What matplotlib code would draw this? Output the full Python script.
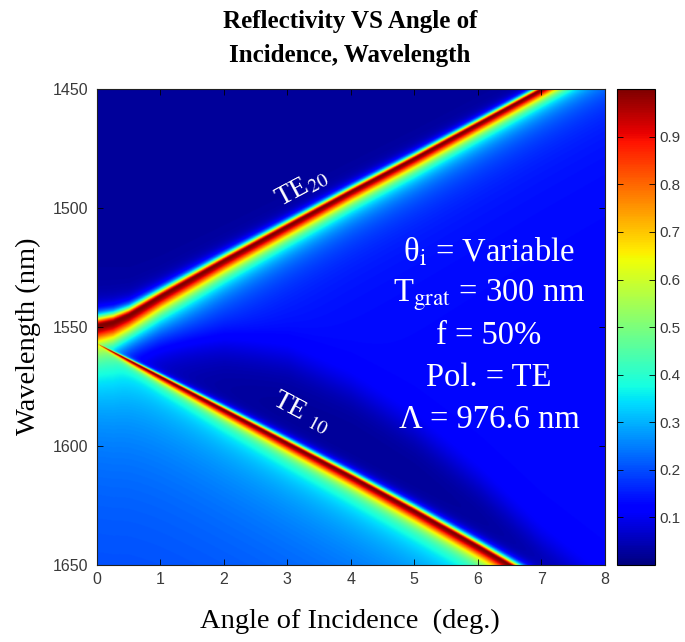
import numpy as np
import matplotlib
matplotlib.use('Agg')
import matplotlib.pyplot as plt

plt.rcParams['font.family'] = ['Liberation Serif', 'DejaVu Serif']
plt.rcParams['mathtext.fontset'] = 'stix'

# resonance positions (angle in deg, wavelength in nm)
angle_pts = [0, 0.25, 0.5, 1, 2, 3, 4, 5, 6, 7, 8]
te20_nm = [1549.5, 1548, 1545, 1537, 1522, 1507.5, 1493, 1479, 1464.5, 1450, 1435.5]
te20_width = [8, 7.5, 6.5, 5.5, 4.8, 4.4, 4.1, 3.9, 3.7, 3.5, 3.4]
te10_nm = [1557, 1560.5, 1564, 1571, 1585, 1599, 1613, 1627.5, 1642.5, 1658, 1673]
te10_width = [0.0, 0.6, 1.2, 2.0, 3.0, 3.6, 4.0, 4.3, 4.5, 4.7, 4.8]
# thickness of the dark band sitting just above TE10
dark_band_nm = [0, 5, 9, 15, 28, 36, 37, 34, 27, 17, 11]

# background reflectivity levels
level_above = 0.025
level_mid = 0.13
glow_te20 = 0.18
level_below = 0.19
glow_te10 = 0.14

cbar_ticks = [0.1, 0.2, 0.3, 0.4, 0.5, 0.6, 0.7, 0.8, 0.9]
x_ticks = [0, 1, 2, 3, 4, 5, 6, 7, 8]
y_ticks = [1450, 1500, 1550, 1600, 1650]

text_lines = [r'θ$_{\mathrm{i}}$ = Variable',
              r'T$_{\mathrm{grat}}$ = 300 nm',
              'f = 50%',
              'Pol. = TE',
              'Λ = 976.6 nm']


def peak(d, w, dark_ratio=0.7):
    w = np.maximum(w, 1e-3)
    x = d / w
    bright = 1.0 / (1.0 + x**2)
    dark = 1.0 / (1.0 + (x / dark_ratio)**2)**2
    return np.where(d >= 0, bright, dark)


def reflectivity():
    theta = np.linspace(0, 8, 801)
    lam = np.linspace(1450, 1650, 801)
    T, L = np.meshgrid(theta, lam)
    c20 = np.interp(theta, angle_pts, te20_nm)[None, :]
    c10 = np.interp(theta, angle_pts, te10_nm)[None, :]
    w20 = np.interp(theta, angle_pts, te20_width)[None, :]
    w10 = np.interp(theta, angle_pts, te10_width)[None, :]
    band = np.interp(theta, angle_pts, dark_band_nm)[None, :]
    d20 = L - c20
    d10 = L - c10

    above = np.full_like(L, level_above)
    between = (level_mid + glow_te20 * np.exp(-np.clip(d20, 0, None) / 12.0))
    between = between * (1 - 0.85 / (1 + np.exp((-d10 - band) / 5.0)))
    below = level_below + glow_te10 * np.exp(-np.clip(d10, 0, None) / 35.0)
    B = np.where(d20 < 0, above, np.where(d10 < 0, between, below))

    P20 = peak(d20, w20)
    P10 = peak(d10, w10)
    return 1 - (1 - B) * (1 - P20) * (1 - P10)


R = reflectivity()

fig = plt.figure(figsize=(6.85, 6.42), dpi=100)
ax = fig.add_axes([0.141, 0.120, 0.742, 0.741])
im = ax.imshow(R, extent=[0, 8, 1650, 1450], aspect='auto', cmap='jet',
               vmin=0, vmax=1, interpolation='bilinear')
ax.set_xlim(0, 8)
ax.set_ylim(1650, 1450)
ax.set_xticks(x_ticks)
ax.set_yticks(y_ticks)
ax.tick_params(direction='in', top=True, right=True, length=4, width=0.6,
               labelsize=11.5, labelcolor='#3a3a3a', labelfontfamily='Liberation Sans')
ax.tick_params(axis='x', pad=5)
ax.tick_params(axis='y', pad=6)
for s in ax.spines.values():
    s.set_linewidth(0.8)
    s.set_color('#202020')

cax = fig.add_axes([0.901, 0.120, 0.0555, 0.741])
cb = fig.colorbar(im, cax=cax, ticks=cbar_ticks)
cb.ax.set_yticklabels([str(t) for t in cbar_ticks])
cb.ax.tick_params(direction='in', left=True, right=True, length=4, width=0.6,
                  labelsize=11, labelcolor='#3a3a3a', labelfontfamily='Liberation Sans', pad=3)
cb.outline.set_linewidth(0.8)

# mode labels
ax.text(3.22, 1491.5, r'TE$_{20}$', color='white', fontsize=20, rotation=28,
        ha='center', va='center', rotation_mode='anchor')
ax.text(3.22, 1586, r'TE $_{10}$', color='white', fontsize=20, rotation=-28,
        ha='center', va='center', rotation_mode='anchor')

ys = [0.658, 0.567, 0.481, 0.393, 0.305]
for t, y in zip(text_lines, ys):
    ax.text(0.772, y, t, color='white', fontsize=23.5, ha='center', va='center',
            transform=ax.transAxes)

fig.text(0.511, 0.966, 'Reflectivity VS Angle of', fontsize=18, fontweight='bold',
         ha='center', va='center')
fig.text(0.511, 0.914, 'Incidence, Wavelength', fontsize=18, fontweight='bold',
         ha='center', va='center')
fig.text(0.511, 0.032, 'Angle of Incidence  (deg.)', fontsize=20.5, ha='center', va='center')
fig.text(0.041, 0.476, 'Wavelength (nm)', fontsize=20.5, ha='center', va='center',
         rotation=90)

fig.savefig('out.png', dpi=100)
